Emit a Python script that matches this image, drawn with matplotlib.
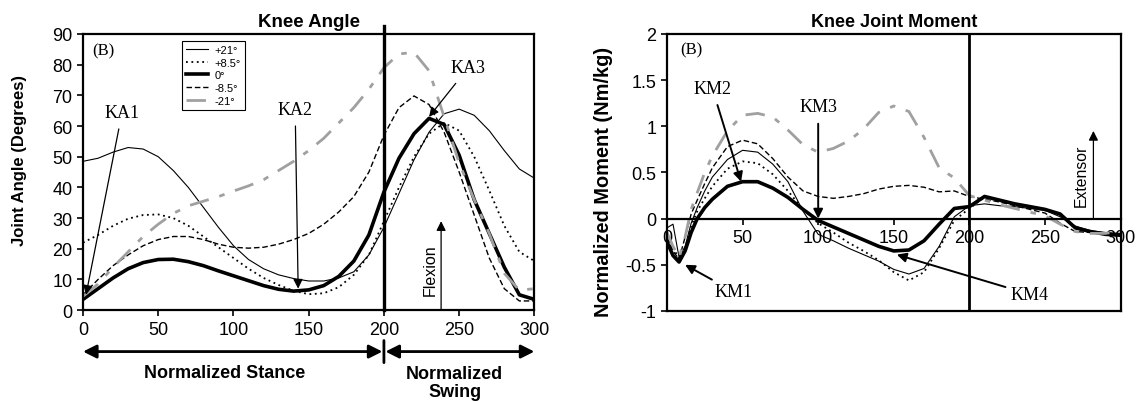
import numpy as np
import matplotlib
matplotlib.use("Agg")
import matplotlib.pyplot as plt
from matplotlib.ticker import FuncFormatter

plt.rcParams['font.family'] = ['Liberation Sans', 'DejaVu Sans']
plt.rcParams['axes.unicode_minus'] = False

# knee angle (degrees) over normalized gait cycle
angle_x = [0, 10, 20, 30, 40, 50, 60, 70, 80, 90, 100, 110, 120, 130, 140, 150,
           160, 170, 180, 190, 200, 210, 220, 230, 240, 250, 260, 270, 280, 290, 300]
angle_p21 = [48.5, 49.5, 51.5, 53, 52.5, 50, 45.5, 40, 33.5, 27, 21, 16.5, 13.5, 11.5, 10.3, 9.5,
             9.5, 10.5, 12.5, 18, 27, 38, 49, 58, 64, 65.5, 63.5, 58.5, 52, 46, 43]
angle_p85 = [22, 24.5, 27.5, 29.8, 31, 31.2, 30, 27.5, 24, 20.5, 17, 13.5, 10.5, 8.2, 6.3, 5.2,
             5.5, 7.5, 11.5, 18, 29, 40, 50, 57.5, 61, 58.5, 50, 39, 27.5, 19, 16]
angle_0 = [3.5, 7, 10.5, 13.5, 15.5, 16.5, 16.6, 15.8, 14.5, 12.8, 11.2, 9.6, 8.0, 6.8, 6.2, 6.6,
           8.0, 11.0, 16.0, 24.5, 38.5, 49.5, 57.5, 62.5, 60.5, 50.5, 36, 25, 14, 5, 3.5]
angle_m85 = [5, 10, 14.5, 18, 21, 23, 24, 24, 23, 21.5, 20.5, 20.2, 20.5, 21.5, 23, 25,
             28, 32, 37, 45, 57, 66, 69.8, 67, 58, 45, 31, 17, 7, 3, 3]
angle_m21 = [4.5, 8.5, 14, 19, 24, 28, 31.5, 34, 35.5, 37, 38.8, 40.5, 42.5, 45.5, 48.5, 52,
             56, 61, 66, 72, 79, 83.5, 84, 78, 63, 48, 36, 25, 12, 6.5, 7]

# knee joint moment (Nm/kg)
mom_x = [0, 4, 8, 12, 16, 20, 25, 30, 40, 50, 60, 70, 80, 90, 100, 110, 120, 130, 140, 150,
         160, 170, 180, 190, 200, 210, 220, 230, 240, 250, 260, 270, 280, 290, 300]
mom_p21 = [-0.10, -0.06, -0.42, -0.30, -0.05, 0.12, 0.30, 0.45, 0.64, 0.74, 0.72, 0.59, 0.40, 0.08,
           -0.17, -0.24, -0.32, -0.39, -0.46, -0.55, -0.60, -0.54, -0.30, 0.02, 0.14, 0.16, 0.14,
           0.13, 0.11, 0.09, 0.02, -0.08, -0.13, -0.15, -0.16]
mom_p85 = [-0.15, -0.30, -0.45, -0.32, -0.08, 0.08, 0.22, 0.35, 0.54, 0.62, 0.60, 0.48, 0.30, 0.10,
           -0.05, -0.15, -0.26, -0.35, -0.45, -0.58, -0.67, -0.58, -0.32, -0.02, 0.11, 0.23, 0.19,
           0.15, 0.12, 0.09, 0.04, -0.09, -0.14, -0.17, -0.17]
mom_0 = [-0.25, -0.40, -0.47, -0.35, -0.15, 0.0, 0.12, 0.21, 0.35, 0.40, 0.40, 0.33, 0.23, 0.10,
         -0.02, -0.09, -0.16, -0.23, -0.30, -0.35, -0.34, -0.24, -0.06, 0.11, 0.13, 0.24, 0.20,
         0.16, 0.13, 0.10, 0.05, -0.10, -0.14, -0.17, -0.18]
mom_m85 = [-0.20, -0.35, -0.44, -0.20, 0.05, 0.20, 0.38, 0.55, 0.78, 0.85, 0.81, 0.65, 0.45, 0.30,
           0.24, 0.22, 0.24, 0.27, 0.32, 0.35, 0.36, 0.34, 0.29, 0.30, 0.24, 0.21, 0.18,
           0.14, 0.10, 0.06, -0.05, -0.14, -0.15, -0.16, -0.17]
mom_m21 = [-0.15, -0.30, -0.42, -0.20, 0.10, 0.28, 0.50, 0.68, 0.95, 1.12, 1.14, 1.10, 0.96, 0.80,
           0.72, 0.76, 0.84, 0.97, 1.15, 1.22, 1.16, 0.88, 0.55, 0.44, 0.25, 0.20, 0.15,
           0.11, 0.07, 0.03, -0.06, -0.14, -0.16, -0.16, -0.13]

labels = ['+21°', '+8.5°', '0°', '-8.5°', '-21°']
styles = [dict(color='black', lw=0.8, ls='-'),
          dict(color='black', lw=1.3, ls=(0, (1, 2))),
          dict(color='black', lw=2.6, ls='-'),
          dict(color='black', lw=1.0, ls=(0, (4, 2))),
          dict(color='#a0a0a0', lw=2.0, ls=(0, (7, 4, 2, 4)))]

fig = plt.figure(figsize=(11.37, 4.02), dpi=100)
ax1 = fig.add_axes([0.073, 0.226, 0.397, 0.687])
ax2 = fig.add_axes([0.5866, 0.224, 0.399, 0.689])

serif = ['Liberation Serif', 'DejaVu Serif']
arrow_thin = dict(arrowstyle='-|>', color='black', lw=0.9, mutation_scale=14)

# ---- knee angle
for ys, lab, st in zip([angle_p21, angle_p85, angle_0, angle_m85, angle_m21], labels, styles):
    ax1.plot(angle_x, ys, label=lab, **st)
ax1.axvline(200, color='black', lw=2.4, ymax=1.03, clip_on=False)
ax1.set_xlim(0, 300)
ax1.set_ylim(0, 90)
ax1.set_xticks(range(0, 301, 50))
ax1.set_yticks(range(0, 91, 10))
ax1.set_title('Knee Angle', fontsize=13.5, fontweight='bold', pad=6)
ax1.set_ylabel('Joint Angle (Degrees)', fontsize=12, fontweight='bold')
ax1.yaxis.set_label_coords(-0.124, 0.547)
ax1.text(13.5, 84.5, '(B)', family=serif, fontsize=12, ha='center', va='center')
ax1.legend(loc='upper left', bbox_to_anchor=(0.207, 0.995), fontsize=8, frameon=True,
           fancybox=False, edgecolor='black', framealpha=1, handlelength=2.0,
           labelspacing=0.25, borderpad=0.35, handletextpad=0.6).get_frame().set_linewidth(0.8)

ax1.annotate('KA1', xy=(2, 5), xytext=(26, 64.5), family=serif, fontsize=13,
             ha='center', va='center', arrowprops=dict(arrow_thin, shrinkA=4, shrinkB=0))
ax1.annotate('KA2', xy=(143, 7), xytext=(141, 65.5), family=serif, fontsize=13,
             ha='center', va='center', arrowprops=dict(arrow_thin, shrinkA=4, shrinkB=0))
ax1.annotate('KA3', xy=(230, 63), xytext=(256, 79), family=serif, fontsize=13,
             ha='center', va='center', arrowprops=dict(arrow_thin, shrinkA=4, shrinkB=0))
ax1.annotate('', xy=(238, 29), xytext=(238, 0),
             arrowprops=dict(arrow_thin, shrinkA=0, shrinkB=0))
ax1.text(231, 13.5, 'Flexion', rotation=90, fontsize=11.5, ha='center', va='center')

# stance / swing arrows below the axis
big = dict(arrowstyle='<|-|>', color='black', lw=2, mutation_scale=20, shrinkA=0, shrinkB=0)
ax1.annotate('', xy=(0, -0.15), xytext=(199, -0.15), xycoords=('data', 'axes fraction'),
             textcoords=('data', 'axes fraction'), arrowprops=big)
ax1.annotate('', xy=(201, -0.15), xytext=(300, -0.15), xycoords=('data', 'axes fraction'),
             textcoords=('data', 'axes fraction'), arrowprops=big)
ax1.annotate('', xy=(200, -0.11), xytext=(200, -0.19), xycoords=('data', 'axes fraction'),
             textcoords=('data', 'axes fraction'),
             arrowprops=dict(arrowstyle='-', color='black', lw=2, shrinkA=0, shrinkB=0))
ax1.text(94, -0.225, 'Normalized Stance', transform=ax1.get_xaxis_transform(),
         fontsize=13, fontweight='bold', ha='center', va='center')
ax1.text(247, -0.262, 'Normalized\nSwing', transform=ax1.get_xaxis_transform(),
         fontsize=13, fontweight='bold', ha='center', va='center', linespacing=1.1)

# ---- knee moment
for ys, lab, st in zip([mom_p21, mom_p85, mom_0, mom_m85, mom_m21], labels, styles):
    ax2.plot(mom_x, ys, label=lab, **st)
ax2.axvline(200, color='black', lw=2.0)
ax2.set_xlim(0, 300)
ax2.set_ylim(-1, 2)
ax2.set_xticks(range(0, 301, 50))
ax2.set_yticks([-1, -0.5, 0, 0.5, 1, 1.5, 2])
ax2.yaxis.set_major_formatter(FuncFormatter(lambda v, p: f'{v:g}'))
ax2.spines['bottom'].set_position(('data', 0))
ax2.axhline(-1, color='black', lw=1.6, clip_on=False)
ax2.set_title('Knee Joint Moment', fontsize=13, fontweight='bold', pad=6)
ax2.set_ylabel('Normalized Moment (Nm/kg)', fontsize=14.4, fontweight='bold')
ax2.yaxis.set_label_coords(-0.12, 0.47)
ax2.text(16, 1.83, '(B)', family=serif, fontsize=12, ha='center', va='center')

ax2.annotate('KM1', xy=(12, -0.50), xytext=(44, -0.79), family=serif, fontsize=13,
             ha='center', va='center', arrowprops=dict(arrow_thin, lw=1.4, shrinkA=1, shrinkB=0))
ax2.annotate('KM2', xy=(49, 0.40), xytext=(30, 1.41), family=serif, fontsize=13,
             ha='center', va='center', arrowprops=dict(arrow_thin, lw=1.4, shrinkA=4, shrinkB=0))
ax2.annotate('KM3', xy=(100, 0.0), xytext=(100, 1.21), family=serif, fontsize=13,
             ha='center', va='center', arrowprops=dict(arrow_thin, lw=1.4, shrinkA=4, shrinkB=0))
ax2.annotate('KM4', xy=(152, -0.39), xytext=(240, -0.82), family=serif, fontsize=13,
             ha='center', va='center', arrowprops=dict(arrow_thin, lw=1.4, shrinkA=2, shrinkB=0))
ax2.annotate('', xy=(282, 0.95), xytext=(282, 0),
             arrowprops=dict(arrow_thin, shrinkA=0, shrinkB=0))
ax2.text(274, 0.47, 'Extensor', rotation=90, fontsize=11.3, ha='center', va='center')

for ax in (ax1, ax2):
    for s in ax.spines.values():
        s.set_linewidth(1.6)
    ax.tick_params(labelsize=13, width=1.2, length=4)

fig.savefig('out.png', dpi=100)
